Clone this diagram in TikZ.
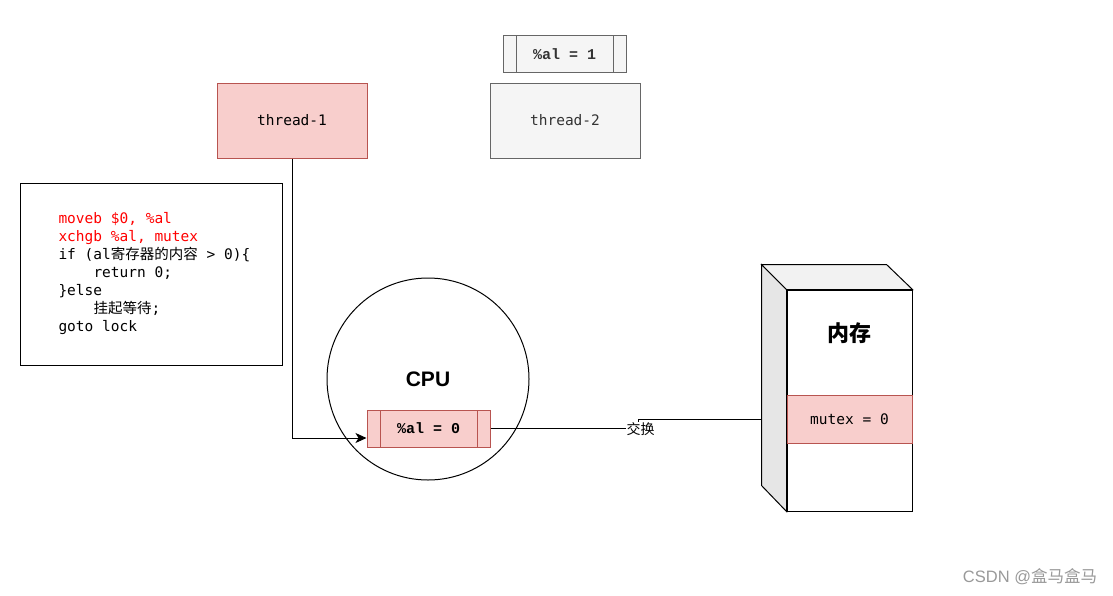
\documentclass[tikz,border=0pt]{standalone}
\usepackage{fontspec}
\setmainfont{Liberation Sans}
\setmonofont{DejaVu Sans Mono}
\newfontfamily\cjk{Noto Sans CJK SC}
\newfontfamily\regfont{Liberation Mono}
\usepackage{tikz}
\usetikzlibrary{arrows.meta}
\definecolor{redfill}{HTML}{F8CECC}
\definecolor{reddraw}{HTML}{B85450}
\definecolor{grayfill}{HTML}{F5F5F5}
\definecolor{graydraw}{HTML}{666666}
\definecolor{graytext}{HTML}{333333}
\definecolor{sidegray}{HTML}{E6E6E6}
\definecolor{topgray}{HTML}{F2F2F2}

\tikzset{
    thread/.style={rectangle, draw, minimum width=150pt, minimum height=75pt,
        font=\ttfamily\fontsize{14.5}{16}\selectfont},
    reg/.style={rectangle, draw=#1, minimum width=123pt, minimum height=37pt,
        font=\regfont\bfseries\fontsize{15}{16}\selectfont,
        path picture={
            \draw[#1] ([xshift=13pt]path picture bounding box.north west) -- ([xshift=13pt]path picture bounding box.south west);
            \draw[#1] ([xshift=-13pt]path picture bounding box.north east) -- ([xshift=-13pt]path picture bounding box.south east);
        }},
}

\begin{document}
\begin{tikzpicture}[x=1pt, y=-1pt, line width=1pt]
    \useasboundingbox (0,0) rectangle (1113,595);
    % threads and their registers
    \node[thread, fill=redfill, draw=reddraw] (t1) at (292,120.5) {thread-1};
    \node[thread, fill=grayfill, draw=graydraw, text=graytext] (t2) at (565,120.5) {thread-2};
    \node[reg=graydraw, fill=grayfill, text=graytext] (alone) at (564.5,54) {\%al = 1};
    % the lock code
    \node[draw, rectangle, minimum width=262pt, minimum height=182pt] (code) at (151,274) {};
    \node[anchor=north west, inner sep=0pt, align=left,
          font=\ttfamily\fontsize{14.5}{18}\selectfont] (codetxt) at (58,212)
        {\textcolor{red}{moveb \$0, \%al}\\
         \textcolor{red}{xchgb \%al, mutex}\\
         if (al{\cjk 寄存器的内容} > 0)\{\\
         \hspace*{35pt}return 0;\\
         \}else\\
         \hspace*{35pt}{\cjk 挂起等待};\\
         goto lock};
    % cpu
    \node[draw, circle, minimum size=202pt, font=\bfseries\fontsize{21}{21}\selectfont] (cpu) at (428,379) {CPU};
    \node[reg=reddraw, fill=redfill] (alzero) at (428.5,428.5) {\%al = 0};
    % memory (cube)
    \node[draw, rectangle, fill=white, minimum width=125pt, minimum height=221pt] (mem) at (849.5,400.5) {};
    \draw[fill=sidegray] (mem.north west) -- ++(-25,-25) -- ++(0,221) -- (mem.south west) -- cycle;
    \draw[fill=topgray] (mem.north west) -- ++(-25,-25) -- ++(125,0) -- (mem.north east) -- cycle;
    \node[font=\cjk\bfseries\fontsize{22}{22}\selectfont] (memlabel) at (849.5,333) {内存};
    \node[rectangle, draw=reddraw, fill=redfill, minimum width=125pt, minimum height=48pt,
          font=\ttfamily\fontsize{14.5}{16}\selectfont] (mutex) at (849.5,419) {mutex = 0};
    % connectors
    \draw[-{Stealth[length=11pt,width=10pt,inset=3pt]}] (t1.south) |- ([yshift=-9.5pt]alzero.west);
    \coordinate (bend) at (638,419);
    \coordinate (memside) at (762,419);
    \draw (alzero.east) -| (bend) -- (memside);
    \node[fill=white, inner sep=0.5pt, font=\cjk\fontsize{14}{14}\selectfont] (xchg) at (640.5,429) {交换};
%    \draw (mutex.west) -- (memside);
    \node[text=black!40, font=\fontsize{16.5}{16.5}\selectfont] (mark) at (1030,577) {CSDN @{\cjk 盒马盒马}};
\end{tikzpicture}
\end{document}
